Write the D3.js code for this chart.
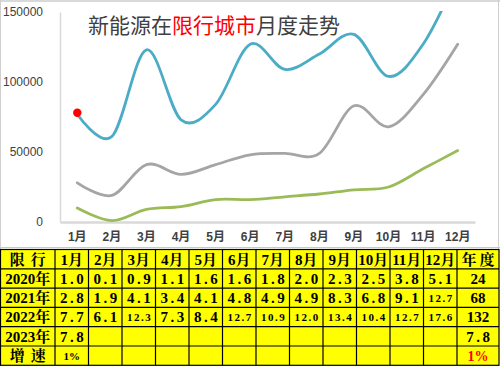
<!DOCTYPE html>
<meta charset="utf-8">
<style>
body { margin: 0; background: #fff; }
svg { display: block; }
.axis-y text { font-family: "Liberation Sans", Arial, sans-serif; font-size: 12px; fill: #404040; }
.axis-x text { font-family: "Liberation Sans", "Noto Sans CJK SC", sans-serif; font-size: 12px; font-weight: bold; fill: #404040; }
.cell text { font-family: "Liberation Serif", "Noto Serif CJK SC", "Noto Sans CJK SC", serif; font-weight: bold; }
</style>
<svg width="500" height="366"></svg>
<script src="https://cdn.jsdelivr.net/npm/d3@7"></script>
<script>

// values in 万 (x10000)
var months = ["1月", "2月", "3月", "4月", "5月", "6月", "7月", "8月", "9月", "10月", "11月", "12月"];
var y2020 = [1.0, 0.1, 0.9, 1.1, 1.6, 1.6, 1.8, 2.0, 2.3, 2.5, 3.8, 5.1];
var y2021 = [2.8, 1.9, 4.1, 3.4, 4.1, 4.8, 4.9, 4.9, 8.3, 6.8, 9.1, 12.7];
var y2022 = [7.7, 6.1, 12.3, 7.3, 8.4, 12.7, 10.9, 12.0, 13.4, 10.4, 12.7, 17.6];
var y2023 = [7.8];
var totals = ["24", "68", "132", "7.8"];
var growth = ["1%"];
var growthTotal = "1%";
var yTicks = [0, 50000, 100000, 150000];
var rowNames = ["限行", "2020年", "2021年", "2022年", "2023年", "增速"];

var svg = d3.select("svg");

// frame bits
svg.append("rect").attr("x", 0).attr("y", 0).attr("width", 500).attr("height", 2).attr("fill", "#d9d9d9");
svg.append("line").attr("x1", 0.5).attr("x2", 0.5).attr("y1", 0).attr("y2", 249).attr("stroke", "#d0d0d0");
svg.append("line").attr("x1", 498.5).attr("x2", 498.5).attr("y1", 0).attr("y2", 249).attr("stroke", "#d0d0d0");
svg.append("line").attr("x1", 0).attr("x2", 500).attr("y1", 247.5).attr("y2", 247.5).attr("stroke", "#c8c8c8");

var pLeft = 60, pRight = 475, pTop = 12, pBottom = 222;

var x = d3.scaleBand().domain(months).range([pLeft, pRight]);
var y = d3.scaleLinear().domain([0, 150000]).range([pBottom, pTop]);

function cx(d, i) { return x(months[i]) + x.bandwidth() / 2; }

// axes
var gy = svg.append("g").attr("class", "axis-y")
    .attr("transform", "translate(" + pLeft + ",0)")
    .call(d3.axisLeft(y).tickValues(yTicks).tickFormat(d3.format("d")).tickSize(0).tickPadding(17));
gy.select(".domain").attr("stroke", "#d9d9d9").attr("stroke-width", 1.5);

var gx = svg.append("g").attr("class", "axis-x")
    .attr("transform", "translate(0," + pBottom + ")")
    .call(d3.axisBottom(x).tickSize(0).tickPadding(10));
gx.select(".domain").attr("stroke", "#d9d9d9").attr("stroke-width", 2.5);

// title
var title = svg.append("text")
    .attr("x", 88).attr("y", 33)
    .style("font-family", "'Noto Sans CJK SC', sans-serif")
    .style("font-size", "21px");
title.append("tspan").attr("fill", "#404040").text("新能源在");
title.append("tspan").attr("fill", "#ff0000").text("限行城市");
title.append("tspan").attr("fill", "#404040").text("月度走势");

// lines
svg.append("clipPath").attr("id", "plot")
    .append("rect").attr("x", pLeft).attr("y", pTop - 1).attr("width", pRight - pLeft).attr("height", pBottom - pTop + 1);

var line = d3.line()
    .x(cx)
    .y(function(d) { return y(d * 10000); })
    .curve(d3.curveCardinal);

var series = [
    {vals: y2020, color: "#9bbb59"},
    {vals: y2021, color: "#a5a5a5"},
    {vals: y2022, color: "#4bacc6"}
];

svg.append("g").attr("clip-path", "url(#plot)")
    .selectAll("path")
    .data(series)
    .enter().append("path")
    .attr("d", function(s) { return line(s.vals); })
    .attr("fill", "none")
    .attr("stroke", function(s) { return s.color; })
    .attr("stroke-width", 2.8)
    .attr("stroke-linecap", "round");

svg.selectAll(".dot23")
    .data(y2023)
    .enter().append("circle")
    .attr("class", "dot23")
    .attr("cx", cx)
    .attr("cy", function(d) { return y(d * 10000); })
    .attr("r", 4.2)
    .attr("fill", "#ff0000");

// table
var tTop = 249.5, rowH = 19.3;
var colEdges = [0.5, 55];
for (var i = 1; i <= 12; i++) colEdges.push(55 + i * (402 / 12));
colEdges.push(499);

var fmt = d3.format(".1f");
var rows = [
    [rowNames[0]].concat(months).concat(["年度"]),
    [rowNames[1]].concat(y2020.map(fmt)).concat([totals[0]]),
    [rowNames[2]].concat(y2021.map(fmt)).concat([totals[1]]),
    [rowNames[3]].concat(y2022.map(fmt)).concat([totals[2]]),
    [rowNames[4]].concat(months.map(function(m, i) { return y2023[i] != null ? fmt(y2023[i]) : ""; })).concat([totals[3]]),
    [rowNames[5]].concat(months.map(function(m, i) { return growth[i] || ""; })).concat([growthTotal])
];

var table = svg.append("g").attr("class", "cell");
table.append("rect")
    .attr("x", 0.5).attr("y", tTop)
    .attr("width", 498.5).attr("height", rowH * rows.length)
    .attr("fill", "#ffff00").attr("stroke", "#000").attr("stroke-width", 1.2);

rows.forEach(function(r, ri) {
    var ry = tTop + ri * rowH;
    if (ri > 0) {
        table.append("line").attr("x1", 0).attr("x2", 499).attr("y1", ry).attr("y2", ry)
            .attr("stroke", "#000").attr("stroke-width", 1.2);
    }
    r.forEach(function(v, ci) {
        var x0 = colEdges[ci], x1 = colEdges[ci + 1];
        if (ri === 0 && ci > 0) {
            table.append("line").attr("x1", x0).attr("x2", x0).attr("y1", tTop).attr("y2", tTop + rowH * rows.length)
                .attr("stroke", "#000").attr("stroke-width", 1.2);
        }
        if (v === "") return;
        var size = 15, spacing = 0;
        var isNum = /^[\d.]+$/.test(v);
        if (isNum && v.indexOf(".") >= 0) {
            if (v.length > 3) { size = 11; spacing = 1.5; } else { spacing = 2.5; }
        }
        if (v.indexOf("%") >= 0) size = (ci === 13 ? 14 : 11);
        var t = table.append("text")
            .attr("x", (x0 + x1) / 2 + spacing / 2)
            .attr("y", ry + rowH / 2)
            .attr("dy", "0.36em")
            .attr("text-anchor", "middle")
            .style("font-size", size + "px")
            .style("letter-spacing", spacing + "px")
            .style("fill", (ri === 5 && ci === 13) ? "#ff0000" : "#000")
            .text(v);
        if (ci === 0) t.style("letter-spacing", (v.length === 2 ? 6 : 0) + "px").attr("x", (x0 + x1) / 2 + (v.length === 2 ? 3 : 0));
        if (ri === 0 && ci === 13) t.style("letter-spacing", "3px").attr("x", (x0 + x1) / 2 + 1.5);
    });
});

</script>
